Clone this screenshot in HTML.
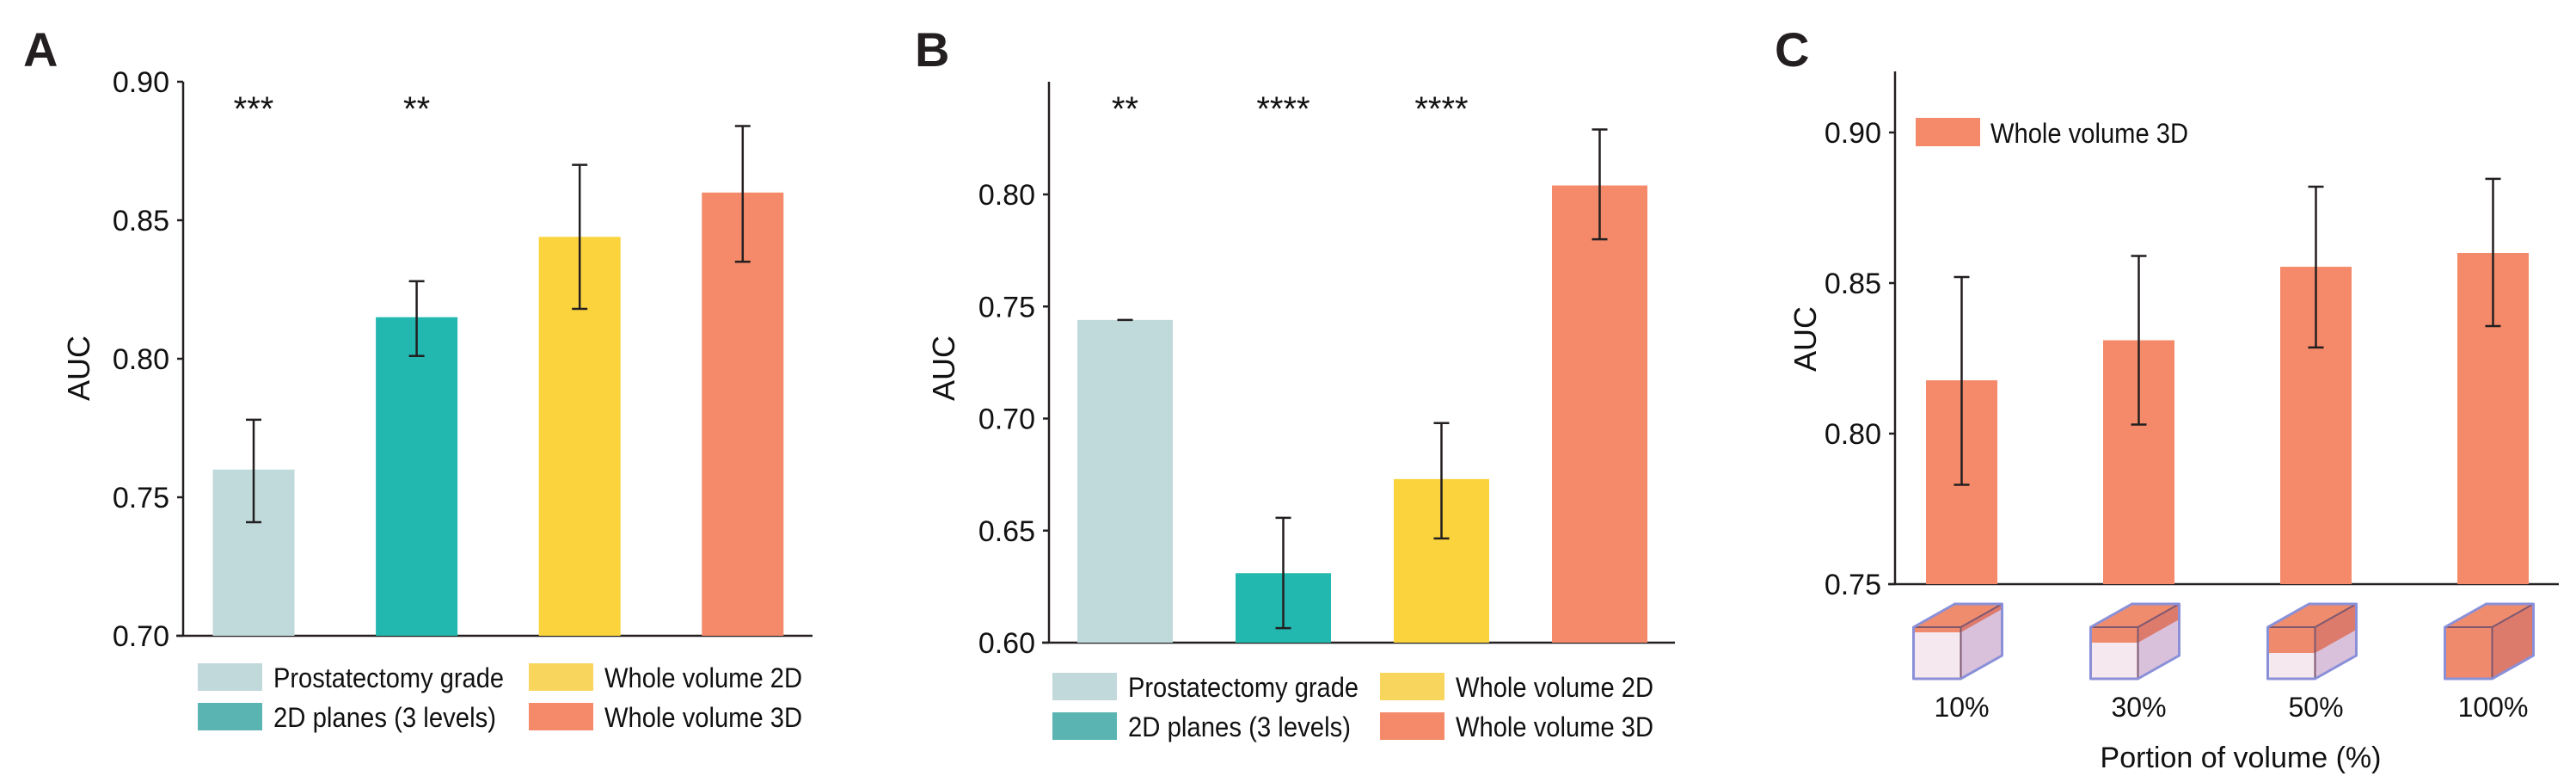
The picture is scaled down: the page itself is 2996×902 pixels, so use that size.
<!DOCTYPE html>
<html><head><meta charset="utf-8">
<style>
html,body{margin:0;padding:0;background:#fff;}
svg{display:block;font-family:"Liberation Sans",Arial,sans-serif;}
</style></head>
<body>
<svg id="fig" width="2996" height="902" viewBox="0 0 2996 902" xmlns="http://www.w3.org/2000/svg"></svg>
<script>
const NS="http://www.w3.org/2000/svg";
const svg=document.getElementById('fig');

// Panel A data
const catsA=["Prostatectomy grade","2D planes (3 levels)","Whole volume 2D","Whole volume 3D"];
const valsA=[0.760,0.815,0.844,0.860];
const loA=[0.741,0.801,0.818,0.835];
const hiA=[0.778,0.828,0.870,0.884];
const starsA=["***","**","",""];
const ticksA=["0.70","0.75","0.80","0.85","0.90"];
// Panel B data
const catsB=["Prostatectomy grade","2D planes (3 levels)","Whole volume 2D","Whole volume 3D"];
const valsB=[0.744,0.631,0.673,0.804];
const loB=[0.744,0.6065,0.6465,0.780];
const hiB=[0.744,0.6557,0.698,0.829];
const starsB=["**","****","****",""];
const ticksB=["0.60","0.65","0.70","0.75","0.80"];
// Panel C data
const catsC=["10%","30%","50%","100%"];
const fracC=[0.10,0.30,0.50,1.00];
const valsC=[0.8177,0.831,0.8554,0.860];
const loC=[0.783,0.803,0.8286,0.8357];
const hiC=[0.852,0.859,0.882,0.8846];
const ticksC=["0.75","0.80","0.85","0.90"];

const barColors=["#c0dadb","#22b8b0","#fbd43d","#f48a69"];
const legColors=["#c2d9db","#5ab4b1","#f8d65e","#f48a69"];
const legWidths=[268,259,230,230];

function el(tag,attrs,parent){const e=document.createElementNS(NS,tag);for(const k in attrs)e.setAttribute(k,attrs[k]);(parent||svg).appendChild(e);return e;}
function txt(s,attrs,parent){const t=el('text',attrs,parent);t.textContent=s;return t;}

function panel(cfg){
  const g=el('g',{});
  
  
  const y=v=>cfg.y0-(v-cfg.vmin)/(cfg.vmax-cfg.vmin)*(cfg.y0-cfg.y1);
  const L=txt(cfg.letter,{x:cfg.letterX,y:77,'font-size':56,'font-weight':'bold',fill:'#231f20'},g);
  
  
  const ya=el('line',{x1:cfg.ax,y1:cfg.axTop,x2:cfg.ax,y2:cfg.y0+1,stroke:'#231f20','stroke-width':2.5},g);
  
  
  const xa=el('line',{x1:cfg.ax-8,y1:cfg.y0,x2:cfg.axEnd,y2:cfg.y0,stroke:'#231f20','stroke-width':2.5},g);
  
  
  cfg.ticks.forEach(t=>{
    const v=parseFloat(t), yy=y(v);
    const tl=el('line',{x1:cfg.ax-7,y1:yy,x2:cfg.ax,y2:yy,stroke:'#231f20','stroke-width':2.5},g);
    
    
    const tt=txt(t,{x:cfg.ax-16,y:yy+12,'font-size':34,'text-anchor':'end',fill:'#111'},g);
    
    
  });
  const at=txt('AUC',{x:0,y:0,'font-size':36,'text-anchor':'middle',fill:'#111',transform:`translate(${cfg.aucX},${cfg.aucY}) rotate(-90)`},g);
  
  
  cfg.vals.forEach((v,i)=>{
    const cx=cfg.c0+i*cfg.step;
    const b=el('rect',{x:cx-cfg.bw/2,y:y(v),width:cfg.bw,height:cfg.y0-y(v),fill:cfg.colors[i]},g);
    
    
    const e=el('path',{d:`M${cx},${y(cfg.hi[i])}V${y(cfg.lo[i])}M${cx-9},${y(cfg.hi[i])}H${cx+9}M${cx-9},${y(cfg.lo[i])}H${cx+9}`,stroke:'#231f20','stroke-width':2.5,fill:'none'},g);
    
    
    if(cfg.stars&&cfg.stars[i]){
      const s=txt(cfg.stars[i],{x:cx,y:140,'font-size':40,'text-anchor':'middle',fill:'#111'},g);
      
      
    }
  });
  return {g,y};
}

function legend4(x1,x2,yr1,yr2,cats,g){
  cats.forEach((c,i)=>{
    const x=i<2?x1:x2, yy=i%2===0?yr1:yr2;
    const lg=el('g',{},g);
    
    
    el('rect',{x:x,y:yy,width:75,height:32,fill:legColors[i]},lg);
    txt(c,{x:x+88,y:yy+28,'font-size':32,fill:'#111',textLength:legWidths[i],lengthAdjust:'spacingAndGlyphs'},lg);
  });
}

const A=panel({name:'panel-a-chart',letter:'A',letterX:27,ax:213,axTop:95,axEnd:945,y0:739,y1:95,vmin:0.70,vmax:0.90,
  ticks:ticksA,aucX:104,aucY:428,vals:valsA,lo:loA,hi:hiA,stars:starsA,c0:295,step:189.6,bw:95,colors:barColors});
legend4(230,615,771,817,catsA,A.g);

const B=panel({name:'panel-b-chart',letter:'B',letterX:1064,ax:1220,axTop:95,axEnd:1948,y0:747,y1:226,vmin:0.60,vmax:0.80,
  ticks:ticksB,aucX:1110,aucY:428,vals:valsB,lo:loB,hi:hiB,stars:starsB,c0:1308.5,step:184,bw:111,colors:barColors});
legend4(1224,1605,782,828,catsB,B.g);

const C=panel({name:'panel-c-chart',letter:'C',letterX:2064,ax:2204,axTop:83,axEnd:2976,y0:679,y1:154,vmin:0.75,vmax:0.90,
  ticks:ticksC,aucX:2112,aucY:394,vals:valsC,lo:loC,hi:hiC,stars:null,c0:2281.5,step:206,bw:83,colors:["#f48a69","#f48a69","#f48a69","#f48a69"]});
const lgc=el('g',{},C.g);


el('rect',{x:2228,y:137,width:75,height:33,fill:'#f48a69'},lgc);
txt('Whole volume 3D',{x:2315,y:166,'font-size':32,fill:'#111',textLength:230,lengthAdjust:'spacingAndGlyphs'},lgc);

catsC.forEach((c,i)=>{
  const cx=2281.5+i*206;
  const f=fracC[i];
  const g=el('g',{},C.g);
  
  
  const x0=cx-56,yT=729,w=55,h=60,dx=48,dy=-27;
  el('polygon',{points:`${x0},${yT} ${x0+w},${yT} ${x0+w},${yT+h} ${x0},${yT+h}`,fill:'#f6e8ef'},g);
  el('polygon',{points:`${x0+w},${yT} ${x0+w+dx},${yT+dy} ${x0+w+dx},${yT+h+dy} ${x0+w},${yT+h}`,fill:'#d9c1dc'},g);
  el('polygon',{points:`${x0},${yT} ${x0+dx},${yT+dy} ${x0+w+dx},${yT+dy} ${x0+w},${yT}`,fill:'#ef8c6e'},g);
  const fh=h*f;
  el('polygon',{points:`${x0},${yT} ${x0+w},${yT} ${x0+w},${yT+fh} ${x0},${yT+fh}`,fill:'#f08a6c'},g);
  el('polygon',{points:`${x0+w},${yT} ${x0+w+dx},${yT+dy} ${x0+w+dx},${yT+dy+fh} ${x0+w},${yT+fh}`,fill:'#dc7a6c'},g);
  el('path',{d:`M${x0},${yT}H${x0+w}V${yT+h}M${x0+w},${yT}L${x0+w+dx},${yT+dy}`,stroke:'#7d5870','stroke-width':2,fill:'none'},g);
  el('polygon',{points:`${x0},${yT} ${x0+dx},${yT+dy} ${x0+w+dx},${yT+dy} ${x0+w+dx},${yT+h+dy} ${x0+w},${yT+h} ${x0},${yT+h}`,fill:'none',stroke:'#8a90d8','stroke-width':3,'stroke-linejoin':'round'},g);
  const t=txt(c,{x:cx,y:833,'font-size':32,'text-anchor':'middle',fill:'#111'},C.g);
  
  
});
const xt=txt('Portion of volume (%)',{x:2606,y:892,'font-size':34,'text-anchor':'middle',fill:'#111'},C.g);


</script>
</body></html>
